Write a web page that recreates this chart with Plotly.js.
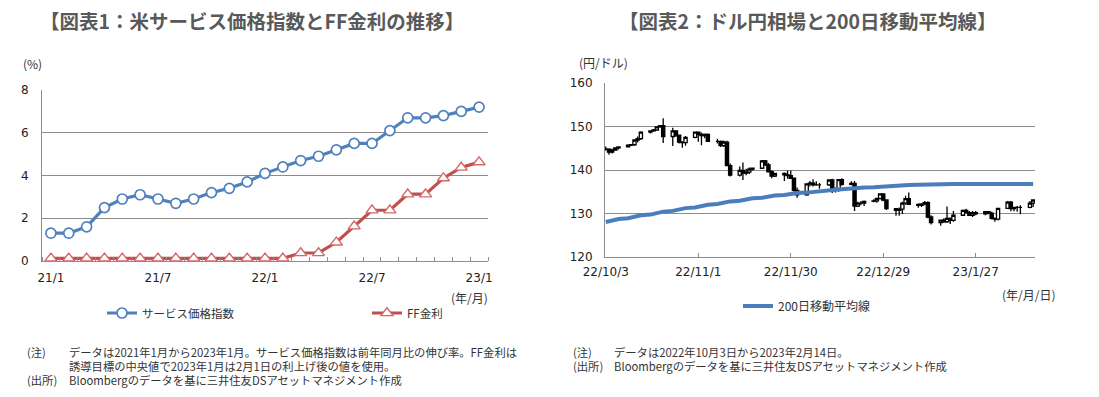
<!DOCTYPE html>
<html><head><meta charset="utf-8">
<script src="https://cdn.plot.ly/plotly-3.0.1.min.js"></script>
<style>html,body{margin:0;padding:0;background:#fff;}#chart{width:1099px;height:397px;}</style>
</head><body><div id="chart"></div>
<script>
// ---- Chart 1 data ----
const months = ['21/1','21/2','21/3','21/4','21/5','21/6','21/7','21/8','21/9','21/10','21/11','21/12',
  '22/1','22/2','22/3','22/4','22/5','22/6','22/7','22/8','22/9','22/10','22/11','22/12','23/1'];
const serviceCPI = [1.3,1.3,1.6,2.5,2.9,3.1,2.9,2.7,2.9,3.2,3.4,3.7,4.1,4.4,4.7,4.9,5.2,5.5,5.5,6.1,6.7,6.7,6.8,7.0,7.2];
const ffRate = [0.125,0.125,0.125,0.125,0.125,0.125,0.125,0.125,0.125,0.125,0.125,0.125,0.125,0.125,
  0.375,0.375,0.875,1.625,2.375,2.375,3.125,3.125,3.875,4.375,4.625];
const monthTickLabels = ['21/1','21/7','22/1','22/7','23/1'];

// ---- Chart 2 data ----
const dates = ['2022-10-03','2022-10-04','2022-10-05','2022-10-06','2022-10-07',
 '2022-10-10','2022-10-11','2022-10-12','2022-10-13','2022-10-14',
 '2022-10-17','2022-10-18','2022-10-19','2022-10-20','2022-10-21',
 '2022-10-24','2022-10-25','2022-10-26','2022-10-27','2022-10-28',
 '2022-10-31','2022-11-01','2022-11-02','2022-11-03','2022-11-04',
 '2022-11-07','2022-11-08','2022-11-09','2022-11-10','2022-11-11',
 '2022-11-14','2022-11-15','2022-11-16','2022-11-17','2022-11-18',
 '2022-11-21','2022-11-22','2022-11-23','2022-11-24','2022-11-25',
 '2022-11-28','2022-11-29','2022-11-30','2022-12-01','2022-12-02',
 '2022-12-05','2022-12-06','2022-12-07','2022-12-08','2022-12-09',
 '2022-12-12','2022-12-13','2022-12-14','2022-12-15','2022-12-16',
 '2022-12-19','2022-12-20','2022-12-21','2022-12-22','2022-12-23',
 '2022-12-26','2022-12-27','2022-12-28','2022-12-29','2022-12-30',
 '2023-01-02','2023-01-03','2023-01-04','2023-01-05','2023-01-06',
 '2023-01-09','2023-01-10','2023-01-11','2023-01-12','2023-01-13',
 '2023-01-16','2023-01-17','2023-01-18','2023-01-19','2023-01-20',
 '2023-01-23','2023-01-24','2023-01-25','2023-01-26','2023-01-27',
 '2023-01-30','2023-01-31','2023-02-01','2023-02-02','2023-02-03',
 '2023-02-06','2023-02-07','2023-02-08','2023-02-09','2023-02-10',
 '2023-02-13','2023-02-14'];
const openP = [144.7,144.8,144.1,144.6,145.1, 145.3,145.7,145.8,146.9,147.2, 148.7,149.0,149.2,149.9,150.2,
 147.7,149.0,148.0,146.4,146.3, 147.5,148.7,148.2,147.9,148.2, 146.6,146.6,145.6,146.4,141.0,
 138.8,139.9,139.3,139.5,140.2, 140.4,142.1,141.2,139.6,138.6, 139.2,138.9,138.7,138.1,135.3,
 134.3,136.8,137.0,136.6,136.6, 136.6,137.7,135.6,135.5,137.8, 136.7,136.9,131.7,132.4,132.4,
 132.8,132.9,133.5,134.5,133.1, 131.1,130.7,131.0,132.4,133.4, 132.1,131.9,132.2,132.5,129.2,
 127.9,128.5,128.1,128.9,128.4, 129.6,130.7,130.2,129.6,130.2, 129.9,130.4,130.1,128.9,128.7,
 131.2,132.6,131.1,131.4,131.4, 131.4,132.4];
const highP = [145.4,145.0,144.9,145.1,145.4, 145.9,146.0,147.0,147.7,148.9, 149.1,149.4,149.9,150.3,151.9,
 149.7,149.0,148.1,146.6,147.8, 148.8,148.8,148.6,148.4,148.4, 147.2,146.8,146.8,146.7,141.5,
 140.8,141.7,140.3,140.6,140.5, 142.3,142.3,141.6,139.9,139.3, 139.4,139.9,139.9,138.2,136.0,
 136.9,137.5,137.9,137.4,137.0, 137.9,138.0,136.0,137.9,138.1, 137.4,137.5,132.7,132.9,133.0,
 133.3,133.6,134.5,134.5,133.1, 131.2,131.4,132.7,134.1,134.8, 132.3,132.3,132.9,132.8,129.6,
 128.6,128.9,131.6,129.1,130.6, 130.9,131.1,130.6,130.6,130.6, 130.5,130.5,130.4,129.1,131.2,
 132.9,132.9,131.5,131.7,131.9, 132.9,133.3];
const lowP = [144.5,143.5,143.8,144.4,144.7, 145.2,145.5,145.6,146.3,146.9, 148.4,148.8,149.0,149.7,146.2,
 145.5,147.6,146.1,145.1,145.6, 147.3,146.5,145.7,147.3,146.6, 146.1,145.3,145.3,140.9,138.5,
 138.5,137.7,138.8,139.1,139.9, 140.3,140.9,139.4,138.1,138.4, 137.5,138.0,138.1,135.0,133.6,
 134.1,136.2,136.2,136.4,135.7, 136.3,134.7,134.8,135.0,136.4, 136.5,130.6,131.5,131.9,131.7,
 132.6,132.5,133.2,132.8,130.8, 129.5,129.5,129.9,132.0,132.0, 131.3,131.5,131.9,128.9,127.5,
 127.2,127.9,127.9,127.6,128.1, 129.5,130.1,129.4,129.2,129.6, 129.6,129.8,128.6,128.1,128.4,
 131.1,130.5,130.5,130.4,129.8, 131.2,131.5];
const closeP = [144.8,144.1,144.6,145.1,145.3, 145.7,145.8,146.9,147.2,148.7, 149.0,149.2,149.9,150.2,147.7,
 149.0,148.0,146.4,146.3,147.5, 148.7,148.2,147.9,148.2,146.6, 146.6,145.6,146.4,141.0,138.8,
 139.9,139.3,139.5,140.2,140.4, 142.1,141.2,139.6,138.6,139.2, 138.9,138.7,138.1,135.3,134.3,
 136.8,137.0,136.6,136.6,136.6, 137.7,135.6,135.5,137.8,136.7, 136.9,131.7,132.4,132.4,132.8,
 132.9,133.5,134.5,133.1,131.1, 130.7,131.0,132.4,133.4,132.1, 131.9,132.2,132.5,129.2,127.9,
 128.5,128.1,128.9,128.4,129.6, 130.7,130.2,129.6,130.2,129.9, 130.4,130.1,128.9,128.7,131.2,
 132.6,131.1,131.4,131.4,131.4, 132.4,133.1];
const ma200 = [128.05,128.22,128.39,128.56,128.73, 128.90,129.07,129.24,129.41,129.58,
 129.75,129.92,130.09,130.26,130.43, 130.60,130.76,130.92,131.08,131.24,
 131.40,131.56,131.72,131.88,132.03, 132.18,132.33,132.48,132.63,132.78,
 132.93,133.07,133.21,133.35,133.49, 133.62,133.75,133.88,134.01,134.13,
 134.25,134.37,134.49,134.60,134.70, 134.80,134.90,135.00,135.10,135.19,
 135.28,135.37,135.46,135.54,135.62, 135.70,135.78,135.85,135.92,135.99,
 136.06,136.12,136.18,136.24,136.30, 136.36,136.41,136.46,136.51,136.55,
 136.59,136.63,136.67,136.71,136.74, 136.76,136.78,136.79,136.80,136.80,
 136.80,136.81,136.81,136.80,136.80, 136.80,136.80,136.80,136.79,136.79,
 136.80,136.80,136.80,136.80,136.80, 136.80,136.81];

const W = 1099, H = 397;
const px = v => v / W, py = v => 1 - v / H;
const JP = '"Noto Sans CJK JP", sans-serif';
const NUM = '"DejaVu Sans", sans-serif';
const idx = months.map((m, i) => i);

const traces = [
  {type:'scatter', mode:'lines+markers', name:'サービス価格指数', x: idx, y: serviceCPI, xaxis:'x', yaxis:'y', legend:'legend',
   line:{color:'#4f81bd', width:3.2}, marker:{symbol:'circle', size:10, color:'#ffffff', line:{color:'#4f81bd', width:1.7}}},
  {type:'scatter', mode:'lines+markers', name:'FF金利', x: idx, y: ffRate, xaxis:'x', yaxis:'y', legend:'legend',
   line:{color:'#c0504d', width:3.2}, marker:{symbol:'triangle-up', size:10.5, color:'#ffffff', line:{color:'#d46a67', width:1.4}}},
  {type:'candlestick', x: dates, open: openP, high: highP, low: lowP, close: closeP, xaxis:'x2', yaxis:'y2', showlegend:false,
   increasing:{line:{color:'#000000', width:1.3}, fillcolor:'#ffffff'},
   decreasing:{line:{color:'#000000', width:1.3}, fillcolor:'#000000'}, whiskerwidth:0},
  {type:'scatter', mode:'lines', name:'200日移動平均線', x: dates, y: ma200, xaxis:'x2', yaxis:'y2', legend:'legend2',
   line:{color:'#4a7ebb', width:4}}
];

const gridC = '#8c8c8c', axC = '#8c8c8c';
const annots = [];
function txt(x, y, t, size, opts) {
  annots.push(Object.assign({xref:'paper', yref:'paper', x: px(x), y: py(y), text: t, showarrow:false,
    xanchor:'left', yanchor:'middle', font:{family: JP, size: size, color:'#333333'}}, opts || {}));
}
txt(252, 21, '<b>【図表1：米サービス価格指数とFF金利の推移】</b>', 19.5, {xanchor:'center', font:{family:JP, size:19.5, color:'#595959'}});
txt(808, 21, '<b>【図表2：ドル円相場と200日移動平均線】</b>', 19.5, {xanchor:'center', font:{family:JP, size:19.5, color:'#595959'}});
txt(21, 64, '(%)', 12);
txt(577, 63, '(円/ドル)', 12);
txt(490, 297, '(年/月)', 12, {xanchor:'right'});
txt(1058, 294, '(年/月/日)', 12, {xanchor:'right'});
txt(25, 352, '(注)', 11.3);
txt(67, 352, 'データは2021年1月から2023年1月。サービス価格指数は前年同月比の伸び率。FF金利は', 11.3);
txt(67, 366, '誘導目標の中央値で2023年1月は2月1日の利上げ後の値を使用。', 11.3);
txt(25, 380, '(出所)', 11.3);
txt(67, 380, 'Bloombergのデータを基に三井住友DSアセットマネジメント作成', 11.3);
txt(571, 352, '(注)', 11.3);
txt(612, 352, 'データは2022年10月3日から2023年2月14日。', 11.3);
txt(571, 366, '(出所)', 11.3);
txt(612, 366, 'Bloombergのデータを基に三井住友DSアセットマネジメント作成', 11.3);

const layout = {
  width: W, height: H, margin:{l:0, r:0, t:0, b:0}, paper_bgcolor:'#ffffff', plot_bgcolor:'#ffffff',
  font:{family: JP, size:12, color:'#333333'}, showlegend:true, boxgap:0, boxgroupgap:0,
  xaxis:{domain:[px(42), px(488)], anchor:'y', range:[-0.5, 24.5], tickmode:'array', tickvals:[0,6,12,18,24],
    ticktext: monthTickLabels, ticks:'', showline:true, linecolor:axC, linewidth:1, showgrid:false, zeroline:false,
    tickfont:{family:NUM, size:12, color:'#222'}, ticklabelstandoff:6, fixedrange:true,
    minor:{tickmode:'linear', tick0:0.5, dtick:1, ticks:'inside', ticklen:4, tickcolor:axC, showgrid:false}},
  yaxis:{domain:[py(261), py(90)], anchor:'x', range:[0, 8], dtick:2, tick0:0, showgrid:true, gridcolor:gridC, gridwidth:1,
    showline:true, linecolor:axC, zeroline:false, ticks:'', tickfont:{family:NUM, size:12, color:'#222'}, ticklabelstandoff:10},
  xaxis2:{domain:[px(605), px(1035)], anchor:'y2', type:'date', range:['2022-10-02 18:00','2023-02-14 14:00'],
    tickmode:'linear', tick0:'2022-10-03', dtick: 29*86400000, tickformat:'%y/%-m/%-d', ticks:'inside', ticklen:4, tickcolor:axC,
    showline:true, linecolor:axC, showgrid:false, zeroline:false, rangeslider:{visible:false},
    tickfont:{family:NUM, size:12, color:'#222'}, ticklabelstandoff:4},
  yaxis2:{domain:[py(257), py(83)], anchor:'x2', range:[120, 160], dtick:10, tick0:120, showgrid:true, gridcolor:gridC,
    showline:true, linecolor:axC, zeroline:false, ticks:'', tickfont:{family:NUM, size:12, color:'#222'}, ticklabelstandoff:9},
  legend:{orientation:'h', x: px(102), y: py(313), xanchor:'left', yanchor:'middle', entrywidth:220, entrywidthmode:'pixels',
    font:{family:JP, size:11.5, color:'#333'}, bgcolor:'rgba(0,0,0,0)', tracegroupgap:0},
  legend2:{orientation:'h', x: px(738), y: py(306), xanchor:'left', yanchor:'middle',
    font:{family:JP, size:12, color:'#333'}, bgcolor:'rgba(0,0,0,0)'},
  annotations: annots
};
Plotly.newPlot('chart', traces, layout, {displayModeBar:false, staticPlot:true});
</script></body></html>
